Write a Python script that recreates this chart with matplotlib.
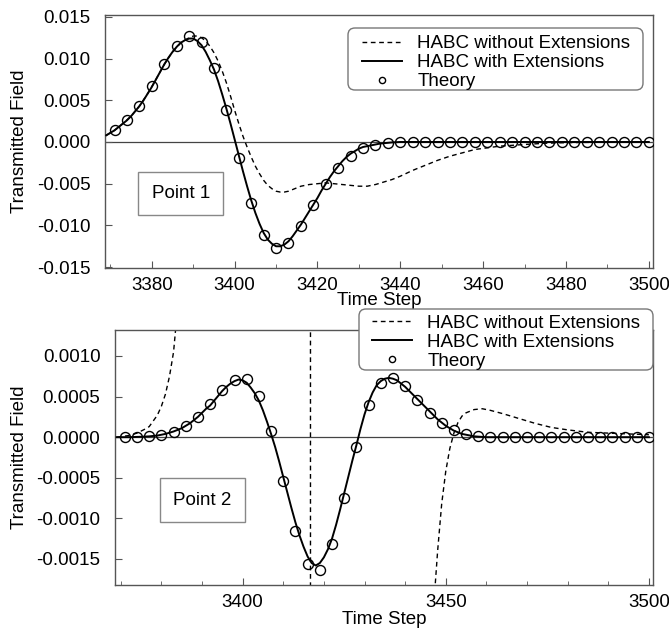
import numpy as np
import matplotlib
matplotlib.use('Agg')
import matplotlib.pyplot as plt
from matplotlib.ticker import MultipleLocator, FormatStrFormatter
from matplotlib.patches import FancyBboxPatch

plt.rcParams['font.family'] = ['Liberation Sans', 'DejaVu Sans']
plt.rcParams['axes.unicode_minus'] = False

# ---------- Point 1 ----------
p1_steps = [3369, 3370, 3371, 3372, 3373, 3374, 3375, 3376, 3377, 3378, 3379, 3380,
            3381, 3382, 3383, 3384, 3385, 3386, 3387, 3388, 3389, 3390, 3391, 3392,
            3393, 3394, 3395, 3396, 3397, 3398, 3399, 3400, 3401, 3402, 3403, 3404,
            3405, 3406, 3407, 3408, 3409, 3410, 3411, 3412, 3413, 3414, 3415, 3416,
            3417, 3418, 3419, 3420, 3421, 3422, 3423, 3424, 3425, 3426, 3427, 3428,
            3429, 3430, 3431, 3432, 3433, 3434, 3435, 3436, 3437, 3438, 3440, 3450,
            3460, 3470, 3480, 3490, 3500]
p1_with = [0.0008, 0.0011, 0.0014, 0.0018, 0.0022, 0.0026, 0.0031, 0.0037, 0.0043, 0.0050,
           0.0058, 0.0066, 0.0075, 0.0084, 0.0093, 0.0101, 0.0108, 0.0114, 0.0119, 0.0122,
           0.0124, 0.0124, 0.0121, 0.0116, 0.0108, 0.0098, 0.0087, 0.0073, 0.0057, 0.0040,
           0.0022, 0.0003, -0.0016, -0.0035, -0.0053, -0.0070, -0.0085, -0.0098, -0.0109,
           -0.0117, -0.0122, -0.0125, -0.0125, -0.0123, -0.0119, -0.0113, -0.0106, -0.0099,
           -0.0091, -0.0083, -0.0075, -0.0067, -0.0058, -0.0050, -0.0042, -0.0035, -0.0029,
           -0.0023, -0.0018, -0.0014, -0.0011, -0.0008, -0.0006, -0.0005, -0.0004, -0.0003,
           -0.0002, -0.00015, -0.0001, -0.00005, 0.0, 0.0, 0.0, 0.0, 0.0, 0.0, 0.0]

p1_dash_steps = [3369, 3371, 3373, 3375, 3377, 3379, 3381, 3383, 3385, 3387, 3388, 3389,
                 3390, 3391, 3392, 3393, 3394, 3395, 3396, 3397, 3398, 3399, 3400, 3401,
                 3402, 3403, 3404, 3405, 3406, 3407, 3408, 3409, 3410, 3411, 3412, 3413,
                 3414, 3415, 3416, 3418, 3420, 3422, 3424, 3426, 3428, 3430, 3432, 3434,
                 3436, 3438, 3440, 3443, 3446, 3449, 3452, 3455, 3458, 3461, 3464, 3467,
                 3470, 3475, 3480, 3490, 3500]
p1_without = [0.0008, 0.0014, 0.0022, 0.0031, 0.0043, 0.0058, 0.0075, 0.0093, 0.0108, 0.0119,
              0.0122, 0.0125, 0.0127, 0.0127, 0.0125, 0.0121, 0.0115, 0.0107, 0.0097, 0.0085,
              0.0071, 0.0055, 0.0038, 0.0022, 0.0007, -0.0006, -0.0018, -0.0029, -0.0038,
              -0.0046, -0.0052, -0.0056, -0.0059, -0.0060, -0.0060, -0.0059, -0.0057, -0.0055,
              -0.0053, -0.0051, -0.0050, -0.0049, -0.0050, -0.0051, -0.0052, -0.0053, -0.0053,
              -0.0051, -0.0048, -0.0045, -0.0041, -0.0034, -0.0028, -0.0022, -0.0017, -0.0013,
              -0.0009, -0.0007, -0.0005, -0.0004, -0.0003, -0.00015, -0.00008, -0.00002, 0.0]

theory_steps = list(range(3371, 3501, 3))
p1_theory = [0.00144, 0.00264, 0.00432, 0.00667, 0.00935, 0.01155, 0.01271, 0.01194,
             0.00887, 0.00387, -0.00188, -0.00731, -0.01115, -0.01267, -0.01211, -0.01012,
             -0.00752, -0.00508, -0.00310, -0.00168, -0.00068, -0.00036, -0.00017, 0.0,
             0.0, 0.0, 0.0, 0.0, 0.0, 0.0, 0.0, 0.0, 0.0, 0.0, 0.0, 0.0, 0.0, 0.0, 0.0,
             0.0, 0.0, 0.0, 0.0, 0.0]

# ---------- Point 2 ----------
p2_steps = [3369, 3372, 3375, 3377, 3379, 3381, 3383, 3385, 3386, 3387, 3388, 3389, 3390,
            3391, 3392, 3393, 3394, 3395, 3396, 3397, 3398, 3399, 3400, 3401, 3402, 3403,
            3404, 3405, 3406, 3407, 3408, 3409, 3410, 3411, 3412, 3413, 3414, 3415, 3416,
            3417, 3418, 3419, 3420, 3421, 3422, 3423, 3424, 3425, 3426, 3427, 3428, 3429,
            3430, 3431, 3432, 3433, 3434, 3435, 3436, 3437, 3438, 3439, 3440, 3441, 3442,
            3443, 3444, 3445, 3446, 3447, 3448, 3449, 3450, 3451, 3452, 3453, 3454, 3455,
            3457, 3460, 3480, 3500]
p2_with = [0.0, 0.0, 0.000005, 0.00001, 0.00002, 0.00004, 0.00007, 0.00011, 0.00014,
           0.00017, 0.00021, 0.00025, 0.0003, 0.00035, 0.00039, 0.00045, 0.00051, 0.00057,
           0.00062, 0.00066, 0.00069, 0.00071, 0.0007, 0.00067, 0.00061, 0.00054, 0.00045,
           0.00033, 0.00019, 0.00004, -0.00012, -0.0003, -0.00049, -0.00068, -0.00087,
           -0.00105, -0.00121, -0.00135, -0.00147, -0.00155, -0.00158, -0.00155, -0.00148,
           -0.00138, -0.00125, -0.00108, -0.00089, -0.00069, -0.00049, -0.00029, -0.0001,
           0.0001, 0.00028, 0.00043, 0.00055, 0.00064, 0.00069, 0.00072, 0.00073, 0.00072,
           0.0007, 0.00066, 0.00062, 0.00057, 0.00052, 0.00047, 0.00042, 0.00037, 0.00032,
           0.00027, 0.00022, 0.00018, 0.00014, 0.00011, 0.00008, 0.00006, 0.00004, 0.00003,
           0.00001, 0.0, 0.0, 0.0]

p2_dash_steps = [3369, 3372, 3374, 3376, 3377, 3378, 3379, 3380, 3381, 3382, 3383, 3384,
                 3386, 3400, 3416.5, 3416.9, 3430, 3445, 3447, 3448, 3449, 3450, 3451, 3452,
                 3453, 3454, 3455, 3457, 3459, 3461, 3464, 3468, 3472, 3476, 3480, 3485,
                 3490, 3495, 3500]
p2_without = [0.0, 0.00002, 0.00005, 0.0001, 0.00013, 0.0002, 0.00027, 0.00038, 0.00053,
              0.00075, 0.00105, 0.0016, 0.003, 0.05, 1.0, -1.0, -0.05, -0.003, -0.0021,
              -0.0014, -0.00082, -0.00042, -0.00014, 0.00005, 0.00018, 0.00026, 0.0003,
              0.00034, 0.00035, 0.00033, 0.00029, 0.00023, 0.00017, 0.00012, 0.00009,
              0.00006, 0.00005, 0.00004, 0.00003]

p2_theory = [0.0, 0.0, 0.00001, 0.000025, 0.000065, 0.00014, 0.00025, 0.00041, 0.00058,
             0.00071, 0.00072, 0.00051, 0.00007, -0.00054, -0.00115, -0.00156, -0.00163,
             -0.00132, -0.00075, -0.00012, 0.00039, 0.00067, 0.00073, 0.00063, 0.00046,
             0.0003, 0.00017, 0.00009, 0.00004, 0.00001, 0.0, 0.0, 0.0, 0.0, 0.0, 0.0,
             0.0, 0.0, 0.0, 0.0, 0.0, 0.0, 0.0, 0.0]

labels = ['HABC without Extensions', 'HABC with Extensions', 'Theory']

FS = 13.5
W, H = 669, 632
fig = plt.figure(figsize=(W / 100, H / 100), dpi=100)
ax1 = fig.add_axes([0.157, 0.576, 0.819, 0.400])
ax2 = fig.add_axes([0.172, 0.0744, 0.804, 0.4035])
DASH = (0, (3.4, 2.6))


def draw(ax, sx, s_with, dx, s_without, s_theory):
    ax.axhline(0, color='#444444', lw=0.9, zorder=1)
    a, = ax.plot(dx, s_without, color='black', lw=1.0, ls=DASH, zorder=2)
    b, = ax.plot(sx, s_with, color='black', lw=1.4, zorder=3)
    c, = ax.plot(theory_steps, s_theory, ls='none', marker='o', ms=7.2, mfc='none',
                 mec='black', mew=1.0, zorder=4)
    for s in ax.spines.values():
        s.set_color('#555555')
        s.set_linewidth(1.0)
    ax.tick_params(direction='in', labelsize=FS, length=5, color='#555555')
    ax.tick_params(axis='y', pad=10.5)
    ax.tick_params(axis='x', pad=6.4)
    ax.tick_params(which='minor', direction='in', length=3, color='#555555')
    ax.tick_params(axis='y', which='both', right=False)
    ax.set_ylabel('Transmitted Field', fontsize=FS, labelpad=6)
    return [a, b, c]


def legend_box(handles, x0, y0, x1, y1, hx, ty):
    # frame drawn in pixel coordinates, legend entries placed inside it
    box = FancyBboxPatch((x0 / 100, (H - y1) / 100), (x1 - x0) / 100, (y1 - y0) / 100,
                         boxstyle='round,pad=0,rounding_size=0.07',
                         transform=fig.dpi_scale_trans, fc='white', ec='#777777',
                         lw=1.0, zorder=5)
    fig.add_artist(box)
    lg = fig.legend(handles, labels, loc='upper left',
                    bbox_to_anchor=(hx / W, 1 - ty / H), fontsize=FS, numpoints=1,
                    markerscale=0.62, handlelength=2.15, handletextpad=0.8,
                    labelspacing=0.1, borderpad=0, borderaxespad=0, frameon=False)
    lg.set_zorder(6)


h1 = draw(ax1, p1_steps, p1_with, p1_dash_steps, p1_without, p1_theory)
ax1.set_xlim(3368.7, 3501)
ax1.set_ylim(-0.0151, 0.0152)
ax1.xaxis.set_major_locator(MultipleLocator(20))
ax1.xaxis.set_minor_locator(MultipleLocator(10))
ax1.yaxis.set_major_locator(MultipleLocator(0.005))
ax1.yaxis.set_major_formatter(FormatStrFormatter('%.3f'))
ax1.set_xlabel('Time Step', fontsize=FS, labelpad=-1)
ax1.text(0.138, 0.296, 'Point 1', transform=ax1.transAxes, fontsize=FS,
         ha='center', va='center',
         bbox=dict(boxstyle='square,pad=0.7', fc='white', ec='#888888', lw=1))

h2 = draw(ax2, p2_steps, p2_with, p2_dash_steps, p2_without, p2_theory)
ax2.set_xlim(3368.6, 3501)
ax2.set_ylim(-0.00182, 0.00132)
ax2.xaxis.set_major_locator(MultipleLocator(50))
ax2.xaxis.set_minor_locator(MultipleLocator(10))
ax2.yaxis.set_major_locator(MultipleLocator(0.0005))
ax2.yaxis.set_major_formatter(FormatStrFormatter('%.4f'))
ax2.set_xlabel('Time Step', fontsize=FS, labelpad=0)
ax2.text(0.162, 0.333, 'Point 2', transform=ax2.transAxes, fontsize=FS,
         ha='center', va='center',
         bbox=dict(boxstyle='square,pad=0.7', fc='white', ec='#888888', lw=1))

legend_box(h1, 348, 28, 643, 90, 362, 35)
legend_box(h2, 359, 309, 653, 370, 372, 314.5)

fig.savefig('out.png', dpi=100)
